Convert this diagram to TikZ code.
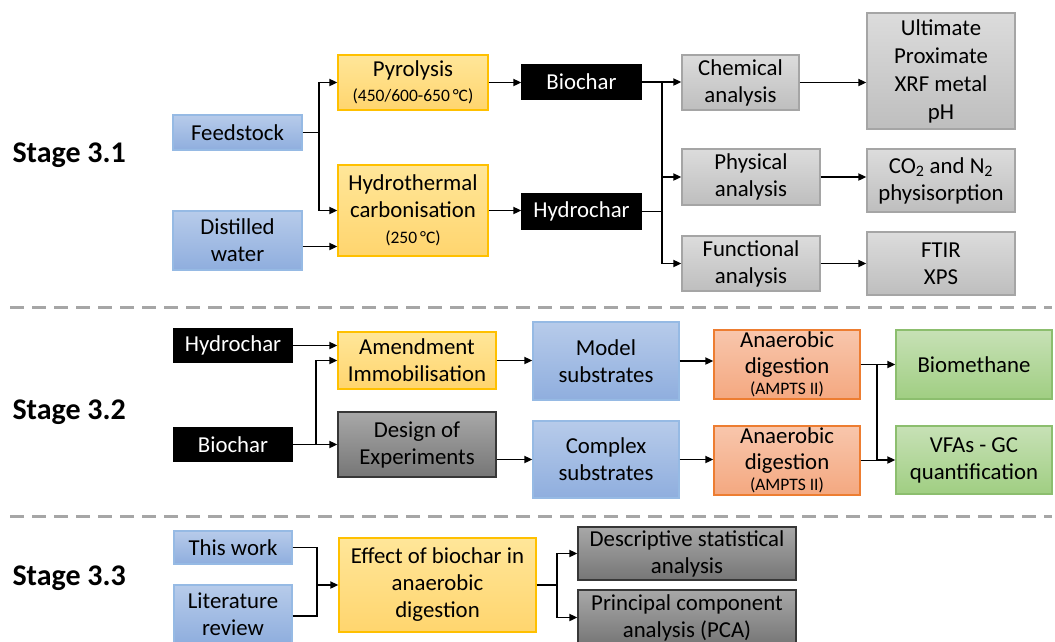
\documentclass[tikz,border=0pt]{standalone}
\usepackage{fontspec}
\setmainfont{Carlito}
\usetikzlibrary{arrows.meta,calc}
\definecolor{blueT}{RGB}{183,203,234}
\definecolor{blueB}{RGB}{143,174,222}
\definecolor{blueD}{RGB}{150,186,228}
\definecolor{yelT}{RGB}{255,230,153}
\definecolor{yelB}{RGB}{255,213,110}
\definecolor{yelD}{RGB}{255,192,0}
\definecolor{lgT}{RGB}{220,220,220}
\definecolor{lgB}{RGB}{190,190,190}
\definecolor{lgD}{RGB}{165,165,165}
\definecolor{dgT}{RGB}{168,168,168}
\definecolor{dgB}{RGB}{118,118,118}
\definecolor{dgD}{RGB}{55,55,55}
\definecolor{saT}{RGB}{248,198,172}
\definecolor{saB}{RGB}{244,168,128}
\definecolor{saD}{RGB}{237,125,49}
\definecolor{grT}{RGB}{199,225,182}
\definecolor{grB}{RGB}{160,206,130}
\definecolor{grD}{RGB}{140,190,110}
\definecolor{dashc}{RGB}{166,166,166}
\newcommand{\sm}[1]{{\fontsize{17.5}{19}\selectfont #1}}
\tikzset{
  base/.style={rectangle, inner sep=0pt, align=center, font=\fontsize{22.8}{27}\selectfont, line width=1.3pt},
  bluebox/.style={base, top color=blueT, bottom color=blueB, draw=blueD},
  yelbox/.style={base, top color=yelT, bottom color=yelB, draw=yelD},
  lgbox/.style={base, top color=lgT, bottom color=lgB, draw=lgD},
  dgbox/.style={base, top color=dgT, bottom color=dgB, draw=dgD},
  sabox/.style={base, top color=saT, bottom color=saB, draw=saD},
  grbox/.style={base, top color=grT, bottom color=grB, draw=grD},
  blkbox/.style={base, fill=black, draw=black, text=white},
  conn/.style={line width=1.8pt, black},
  arr/.style={conn, -{Triangle[length=8pt,width=7pt]}},
  sep/.style={dashc, line width=3pt, dash pattern=on 14pt off 8pt},
  stage/.style={anchor=west, font=\fontsize{30}{36}\selectfont\bfseries}
}
\begin{document}
\begin{tikzpicture}[x=1pt,y=-1pt]
\useasboundingbox (0,0) rectangle (1055,641);
\fill[white] (0,0) rectangle (1055,641);

% Stage labels
\node[stage] (s1) at (9,155) {Stage 3.1};
\node[stage] (s2) at (9,412) {Stage 3.2};
\node[stage] (s3) at (9,578) {Stage 3.3};

% separators
\coordinate (d1a) at (10,307); \coordinate (d1b) at (1052,307);
\coordinate (d2a) at (10,516); \coordinate (d2b) at (1052,516);
\draw[sep] (d1a) -- (d1b);
\draw[sep] (d2a) -- (d2b);

% ---------- Stage 3.1 ----------
\node[bluebox, minimum width=129pt, minimum height=35pt] (feed) at (237.5,132.5) {Feedstock};
\node[bluebox, minimum width=129pt, minimum height=59pt] (water) at (237.5,240.5) {Distilled\\water};
\node[yelbox, minimum width=150pt, minimum height=55pt] (pyro) at (413,82.5) {Pyrolysis\\[-2pt]\sm{(450/600-650\,°C)}};
\node[yelbox, minimum width=150pt, minimum height=91pt] (htc) at (413,210.5) {Hydrothermal\\carbonisation\\[-1pt]\sm{(250\,°C)}};
\node[blkbox, minimum width=119pt, minimum height=34pt] (biochar) at (581.5,82) {Biochar};
\node[blkbox, minimum width=119pt, minimum height=35pt] (hydro) at (581.5,211.5) {Hydrochar};
\node[lgbox, minimum width=117pt, minimum height=55pt] (chem) at (740.5,82.5) {Chemical\\analysis};
\node[lgbox, minimum width=138pt, minimum height=56pt] (phys) at (751,177) {Physical\\analysis};
\node[lgbox, minimum width=138pt, minimum height=55pt] (func) at (751,263.5) {Functional\\analysis};
\node[lgbox, minimum width=148pt, minimum height=116pt, font=\fontsize{22.8}{28}\selectfont] (ult) at (941,71) {Ultimate\\Proximate\\XRF metal\\pH};
\node[lgbox, minimum width=148pt, minimum height=63pt] (co2) at (941,180.5) {CO\textsubscript{2} and N\textsubscript{2}\\physisorption};
\node[lgbox, minimum width=148pt, minimum height=63pt] (ftir) at (941,263.5) {FTIR\\XPS};

\coordinate (j1) at (319,132.5);
\draw[conn] (feed.east) -- (j1);
\draw[arr] (j1) |- (pyro.west);
\draw[arr] (j1) |- (htc.west);
\draw[arr] ([yshift=-6pt]water.east) -- ([yshift=-6pt]water.east -| htc.west);
\draw[arr] (pyro.east) -- (pyro.east -| biochar.west);
\draw[arr] (htc.east) -- (htc.east -| hydro.west);
\coordinate (j2) at (662,82);
\draw[conn] (biochar.east) -- (j2);
\draw[arr] (j2) -- (j2 -| chem.west);
\draw[arr] (j2) |- (phys.west);
\draw[arr] (j2) |- (func.west);
\draw[conn] (hydro.east) -- (hydro.east -| j2);
\draw[arr] (chem.east) -- (chem.east -| ult.west);
\draw[arr] (phys.east) -- (phys.east -| co2.west);
\draw[arr] (func.east) -- (func.east -| ftir.west);

% ---------- Stage 3.2 ----------
\node[blkbox, minimum width=118pt, minimum height=33pt] (hc2) at (233,345.5) {Hydrochar};
\node[blkbox, minimum width=118pt, minimum height=33pt] (bc2) at (233,444.5) {Biochar};
\node[yelbox, minimum width=158pt, minimum height=57pt] (amend) at (417,360.5) {Amendment\\Immobilisation};
\node[dgbox, minimum width=158pt, minimum height=65pt] (doe) at (417,444.5) {Design of\\Experiments};
\node[bluebox, minimum width=146pt, minimum height=78pt] (model) at (606,361) {Model\\substrates};
\node[bluebox, minimum width=146pt, minimum height=77pt] (complex) at (606,459.5) {Complex\\substrates};
\node[sabox, minimum width=146pt, minimum height=69pt] (ad1) at (787,364.5) {Anaerobic\\[-1pt]digestion\\[-6pt]\sm{(AMPTS II)}};
\node[sabox, minimum width=146pt, minimum height=69pt] (ad2) at (787,460.5) {Anaerobic\\[-1pt]digestion\\[-6pt]\sm{(AMPTS II)}};
\node[grbox, minimum width=156pt, minimum height=69pt] (biom) at (974,364.5) {Biomethane};
\node[grbox, minimum width=156pt, minimum height=68pt] (vfa) at (974,460) {VFAs - GC\\quantification};

\draw[arr] (hc2.east) -- (hc2.east -| amend.west);
\coordinate (j3) at (316,444.5);
\draw[arr] (bc2.east) -- (doe.west);
\draw[arr] (j3) |- (amend.west);
\draw[arr] (amend.east) -- (amend.east -| model.west);
\draw[arr] (doe.east |- complex.west) -- (complex.west);
\draw[arr] (model.east) -- (model.east -| ad1.west);
\draw[arr] (complex.east) -- (complex.east -| ad2.west);
\coordinate (j4) at (877,364.5);
\draw[conn] (ad1.east) -- (j4);
\draw[arr] (j4) -- (biom.west);
\draw[conn] (ad2.east) -- (ad2.east -| j4);
\draw[arr] (j4) |- (vfa.west);

% ---------- Stage 3.3 ----------
\node[bluebox, minimum width=118pt, minimum height=33pt] (tw) at (233,547.5) {This work};
\node[bluebox, minimum width=118pt, minimum height=58pt] (lit) at (233,614) {Literature\\review};
\node[yelbox, minimum width=197pt, minimum height=94pt] (eff) at (437.5,585) {Effect of biochar in\\anaerobic\\digestion};
\node[dgbox, minimum width=218pt, minimum height=53pt] (desc) at (687,553.5) {Descriptive statistical\\analysis};
\node[dgbox, minimum width=218pt, minimum height=55pt] (pca) at (687,617.5) {Principal component\\analysis (PCA)};

\coordinate (j5) at (317,585);
\draw[conn] (tw.east) -| (j5);
\draw[conn] ([yshift=-2pt]lit.east) -| (j5);
\draw[arr] (j5) -- (eff.west);
\coordinate (j6) at (557,585);
\draw[conn] (eff.east) -- (j6);
\draw[arr] (j6) |- (desc.west);
\draw[arr] (j6) |- (pca.west);
\end{tikzpicture}
\end{document}
